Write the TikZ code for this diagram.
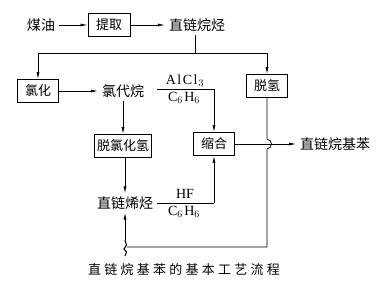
\documentclass[tikz,border=0pt]{standalone}
\usepackage{fontspec}
\setmainfont{Liberation Serif}
\newfontfamily\cjk{Noto Sans CJK SC}
\usetikzlibrary{arrows.meta}
\begin{document}
\begin{tikzpicture}[x=1pt,y=-1pt,
  box/.style={draw,line width=0.9pt,minimum height=23pt,inner sep=0pt,font=\cjk\fontsize{13}{13}\selectfont},
  lbl/.style={inner xsep=4pt,inner ysep=3pt,font=\cjk\fontsize{14}{14}\selectfont},
  chem/.style={inner sep=0pt,font=\fontsize{14}{14}\selectfont},
  ln/.style={line width=0.7pt},
  arr/.style={ln,-{Latex[length=7pt,width=3pt]}}]
\fill[white] (0,0) rectangle (385,300);
\useasboundingbox (0,0) rectangle (385,300);
% top row
\node[lbl] (meiyou) at (41,25) {煤油};
\node[box,minimum width=42pt] (tiqu) at (109,25) {提取};
\node[lbl] (zlwt) at (197,25) {直链烷烃};
\draw[arr] (meiyou) -- (tiqu);
\draw[arr] (tiqu) -- (zlwt);
% distribution
\coordinate (j1) at (195,53);
\coordinate (jl) at (38,53);
\coordinate (jr) at (267,53);
\node[box,minimum width=41pt] (lvhua) at (38,91) {氯化};
\node[box,minimum width=41pt] (tuoqing) at (267,86) {脱氢};
\draw[ln] (zlwt.south -| j1) -- (j1);
\draw[ln] (jl) -- (jr);
\draw[arr] (jl) -- (lvhua);
\draw[arr] (jr) -- (tuoqing);
% chlorination route
\node[lbl] (lvdaiwan) at (123,91) {氯代烷};
\draw[arr] (lvhua) -- (lvdaiwan);
\node[box,minimum width=57pt] (tlhq) at (123,146) {脱氯化氢};
\draw[arr] (lvdaiwan) -- (tlhq);
\node[lbl] (zlxt) at (125,203) {直链烯烃};
\draw[arr] (tlhq.south -| zlxt) -- (zlxt);
% condensation
\node[box,minimum width=41pt] (suohe) at (214,144) {缩合};
\coordinate (a1) at (157,89);
\coordinate (a2) at (214,89);
\node[chem] (alcl) at (185,81) {A\kern1.5pt l\kern1.5pt C\kern1.5pt l\kern1pt$_{3}$};
\node[chem] (c6a) at (184,98) {C$_6$\kern1.5pt H$_6$};
\draw[ln] (a1) -- (a2);
\draw[arr] (a2) -- (suohe);
\coordinate (h1) at (157,203);
\coordinate (h2) at (214,203);
\node[chem] (hf) at (185,194) {HF};
\node[chem] (c6b) at (184,212) {C$_6$\kern1.5pt H$_6$};
\draw[ln] (h1) -- (h2);
\draw[arr] (h2) -- (suohe);
% product
\node[lbl,anchor=west] (lab) at (296,144) {直链烷基苯};
\draw[arr] (suohe) -- (lab);
% recycle loop
\coordinate (r1) at (267,139);
\coordinate (r2) at (267,149);
\coordinate (r3) at (267,247);
\coordinate (r4) at (127,247);
\coordinate (s0) at (125,256);
\coordinate (s1) at (125,240);
\draw[ln] (tuoqing) -- (r1) .. controls (273,140) and (273,148) .. (r2) -- (r3) -- (r4);
\draw[line width=1.1pt] (s0) -- (126.5,252) -- (124,249) -- (126.5,245) -- (s1);
\draw[arr] (s1) -- (zlxt);
% caption
\node[inner sep=0pt,font=\cjk\fontsize{13}{13}\selectfont\addfontfeatures{LetterSpace=25}] (cap) at (184,270) {直链烷基苯的基本工艺流程};
\end{tikzpicture}
\end{document}
